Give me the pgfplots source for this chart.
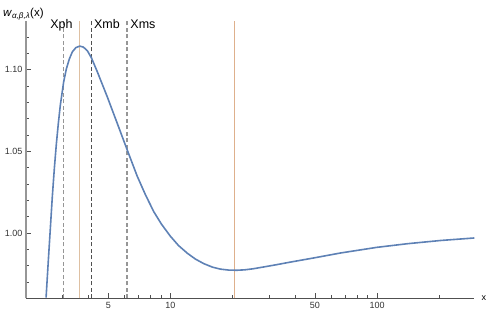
\documentclass[border=0pt]{standalone}
\usepackage{fontspec}
\setmainfont{Liberation Sans}
\usepackage{pgfplots}
\pgfplotsset{compat=1.18}
\definecolor{mblue}{RGB}{94,129,181}
\definecolor{orA}{RGB}{222,192,162}
\definecolor{orB}{RGB}{222,176,140}
\definecolor{dgray}{RGB}{80,80,80}
\definecolor{lgray}{RGB}{150,150,150}
\begin{document}
\begin{tikzpicture}
\path[use as bounding box] (0,0) rectangle (488pt,311pt);
\begin{axis}[
  at={(26pt,12.7pt)}, anchor=south west,
  scale only axis, width=448.3pt, height=277.6pt,
  xmode=log, xmin=2, xmax=295, ymin=0.96, ymax=1.13,
  axis x line=bottom, axis y line=left,
  x axis line style={-, draw=dgray, line width=0.7pt},
  y axis line style={-, draw=lgray, line width=1.4pt},
  xtick={5,10,50,100}, xticklabels={5,10,50,100},
  minor xtick={3,4,6,7,8,9,20,30,40,60,70,80,90,200},
  ytick={1.00,1.05,1.10}, yticklabels={1.00,1.05,1.10},
  minor ytick={0.97,0.98,0.99,1.01,1.02,1.03,1.04,1.06,1.07,1.08,1.09,1.11,1.12},
  tick align=inside, major tick length=5pt, minor tick length=3pt,
  tick style={dgray, line width=0.5pt},
  /pgf/number format/assume math mode=true,
  ticklabel style={font=\fontsize{9}{10}\selectfont, text=black!80},
  clip=false,
]
\addplot[orA, line width=1.2pt] coordinates {(3.64,0.96) (3.64,1.13)};
\addplot[orB, line width=1.1pt] coordinates {(20.5,0.96) (20.5,1.13)};
\addplot[lgray, line width=1.3pt, dash pattern=on 4pt off 2.5pt] coordinates {(3.04,0.96) (3.04,1.13)};
\addplot[dgray, line width=1.0pt, dash pattern=on 4pt off 2.5pt] coordinates {(4.13,0.96) (4.13,1.13)};
\addplot[lgray, line width=1.3pt, dash pattern=on 4pt off 2.5pt] coordinates {(6.17,0.96) (6.17,1.13)};
\addplot[mblue, line width=1.6pt, line join=round] coordinates {
(2.501,0.9604) (2.566,0.98366) (2.624,1.00324) (2.683,1.02283) (2.744,1.03996)
(2.805,1.05465) (2.869,1.06750) (2.933,1.07852) (3.043,1.09259) (3.136,1.10055)
(3.243,1.10667) (3.353,1.11095) (3.487,1.11353) (3.638,1.11444) (3.791,1.11383)
(3.964,1.11157) (4.144,1.10728) (4.416,1.09902) (4.938,1.08360) (5.520,1.06732)
(6.170,1.05098) (6.898,1.03488) (7.565,1.02344) (8.301,1.01304) (9.046,1.00539)
(10.0,0.99792) (10.93,0.99235) (12.05,0.98764) (13.22,0.98397) (14.50,0.98121)
(15.97,0.97907) (17.47,0.97785) (19.10,0.97729) (20.87,0.97717) (22.82,0.97742)
(24.95,0.97803) (27.89,0.97907) (32.25,0.98048) (38.11,0.98219) (49.26,0.98470)
(66.56,0.98776) (99.45,0.99119) (140.5,0.99345) (203.0,0.99541) (295,0.99694)
};
\node[anchor=base, font=\fontsize{12.5}{13}\selectfont] at (axis cs:2.97,1.125) {Xph};
\node[anchor=base, font=\fontsize{12.5}{13}\selectfont] at (axis cs:4.93,1.125) {Xmb};
\node[anchor=base, font=\fontsize{12.5}{13}\selectfont] at (axis cs:7.36,1.125) {Xms};
\node[anchor=west, font=\fontsize{9}{10}\selectfont, inner sep=0pt] at (rel axis cs:1,0) [xshift=7pt] {x};
\node[anchor=base west, font=\fontsize{11.5}{12}\selectfont, inner sep=0pt] at (rel axis cs:0,1) [xshift=-23pt, yshift=4pt] {\textit{w}\textsubscript{\itshape α,β,λ}(x)};
\end{axis}
\end{tikzpicture}
\end{document}
